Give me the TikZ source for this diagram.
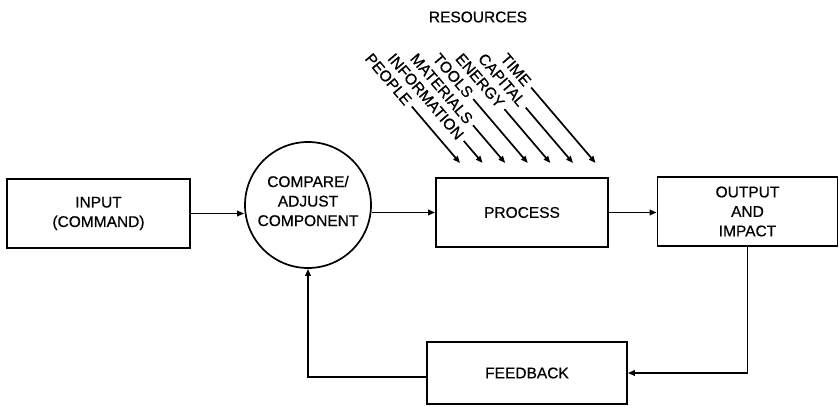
\documentclass[tikz,border=0pt]{standalone}
\usepackage{fontspec}
\setmainfont{Liberation Sans}[UprightFeatures={FakeBold=0.6}]
\usetikzlibrary{arrows.meta}
\newcommand\diafont{\fontsize{15.5}{19.5}\selectfont}
\begin{document}
\begin{tikzpicture}[x=1pt,y=-1pt,
  line width=1.7pt,
  arr/.style={-{Triangle[length=7pt,width=5.5pt]}},
  blk/.style={draw, inner sep=0pt, align=center, font=\diafont},
  lbl/.style={font=\diafont, inner sep=0pt}]
\useasboundingbox (0,0) rectangle (839,407);

% main blocks
\node[blk, minimum width=183pt, minimum height=69pt] (input) at (98.5,213.5) {INPUT\\(COMMAND)};
\node[draw, circle, minimum size=126pt, inner sep=0pt] (cmp) at (308,205) {};
\node[lbl, align=center] (cmptext) at (308,201) {COMPARE/\\ADJUST\\COMPONENT};
\node[blk, minimum width=172pt, minimum height=69pt] (process) at (522,212.5) {PROCESS};
\node[blk, minimum width=180pt, minimum height=69pt] (output) at (747.5,211.5) {OUTPUT\\AND\\IMPACT};
\node[blk, minimum width=200pt, minimum height=62pt] (feedback) at (527,373) {FEEDBACK};

% forward flow
\draw[arr] (input.east) -- (input.east -| cmp.west);
\draw[arr] (process.west -| cmp.east) -- (process.west);
\draw[arr] (process.east) -- (process.east -| output.west);

% feedback loop
\draw[arr] (output.south) |- (feedback.east);
\draw[arr] ([yshift=-4pt]feedback.west) -| (cmp.south);

% resources feeding the process
\node[lbl] (res) at (478,17) {RESOURCES};
\foreach \name [count=\i from 0] in {PEOPLE,INFORMATION,MATERIALS,TOOLS,ENERGY,CAPITAL,TIME}{
  \coordinate (tip\i) at ({460+22.6*\i},163);
  \node[lbl, rotate=-49.5, anchor=west] (r\i) at ({460+22.6*\i-92.2},55) {\name};
  \draw[arr, shorten <=4pt] (r\i.east) -- (tip\i);
}
\end{tikzpicture}
\end{document}
